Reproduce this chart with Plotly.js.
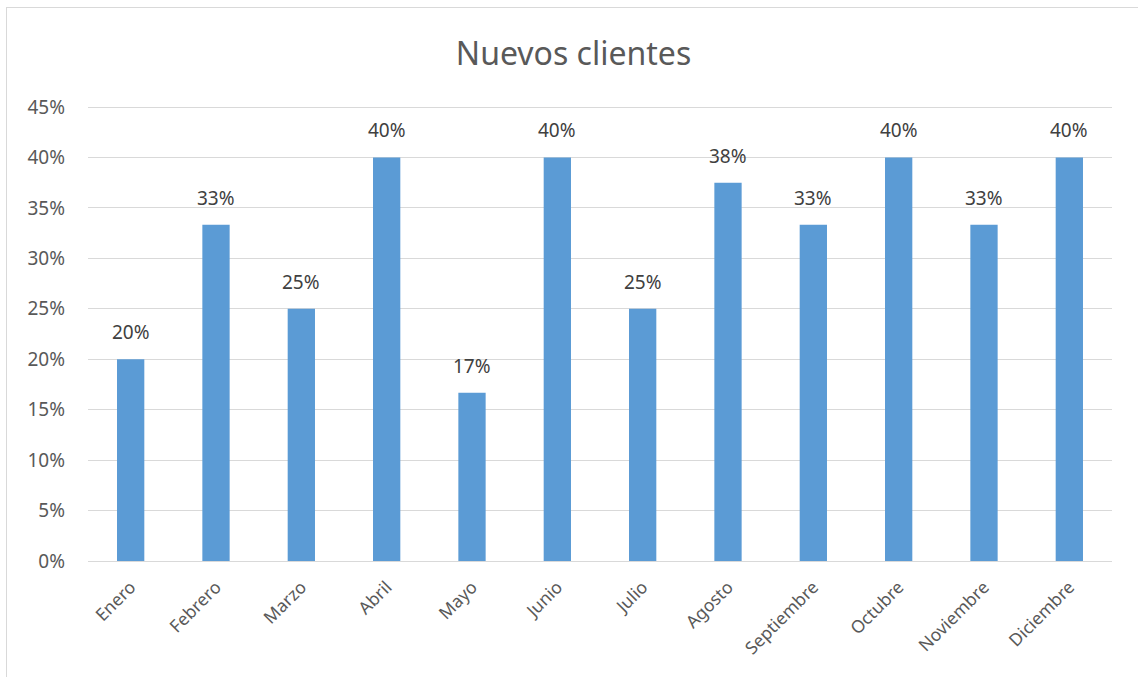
<!DOCTYPE html>
<html>
<head>
<meta charset="utf-8">
<script src="https://cdn.plot.ly/plotly-3.0.1.min.js"></script>
<style>
html,body{margin:0;padding:0;overflow:hidden;background:#fff;}
#chart{width:1138px;height:677px;}
#frame{position:absolute;left:6px;top:7px;width:1200px;height:800px;border:1px solid #d9d9d9;pointer-events:none;}
</style>
</head>
<body>
<div id="chart"></div>
<div id="frame"></div>
<script>
const months = ["Enero","Febrero","Marzo","Abril","Mayo","Junio","Julio","Agosto","Septiembre","Octubre","Noviembre","Diciembre"];
const values = [0.20, 0.3333, 0.25, 0.40, 0.1667, 0.40, 0.25, 0.375, 0.3333, 0.40, 0.3333, 0.40];
const yTicks = [0,0.05,0.10,0.15,0.20,0.25,0.30,0.35,0.40,0.45];
const yTickText = ["0%","5%","10%","15%","20%","25%","30%","35%","40%","45%"];

const font = "Noto Sans, Open Sans, sans-serif";
const labels = months.map((m, i) => ({
  x: m, y: values[i], xref: "x", yref: "y",
  text: Math.round(values[i] * 100) + "%",
  showarrow: false, yanchor: "bottom", yshift: 12,
  font: {family: font, size: 19, color: "#404040"}
}));

Plotly.newPlot("chart", [{
  type: "bar",
  x: months,
  y: values,
  marker: {color: "#5b9bd5"},
  hoverinfo: "skip"
}], {
  width: 1138, height: 677,
  margin: {l: 88, r: 26, t: 105, b: 116},
  paper_bgcolor: "#fff", plot_bgcolor: "#fff",
  bargap: 0.68,
  showlegend: false,
  annotations: labels,
  title: {text: "Nuevos clientes", x: 0.504, xanchor: "center", y: 0.921, yanchor: "middle",
          font: {family: font, size: 32, color: "#595959"}},
  xaxis: {
    tickangle: -45,
    tickfont: {family: font, size: 17.5, color: "#595959"},
    showline: true, linecolor: "#d9d9d9", linewidth: 1,
    ticks: "", showgrid: false,
    ticklabelstandoff: 8
  },
  yaxis: {
    range: [0, 0.452],
    tickvals: yTicks, ticktext: yTickText,
    tickfont: {family: font, size: 19, color: "#595959"},
    showgrid: true, gridcolor: "#d9d9d9", gridwidth: 1,
    zeroline: false, showline: false, ticks: "", ticklen: 0,
    ticklabelstandoff: 22
  }
}, {staticPlot: true});
</script>
</body>
</html>
